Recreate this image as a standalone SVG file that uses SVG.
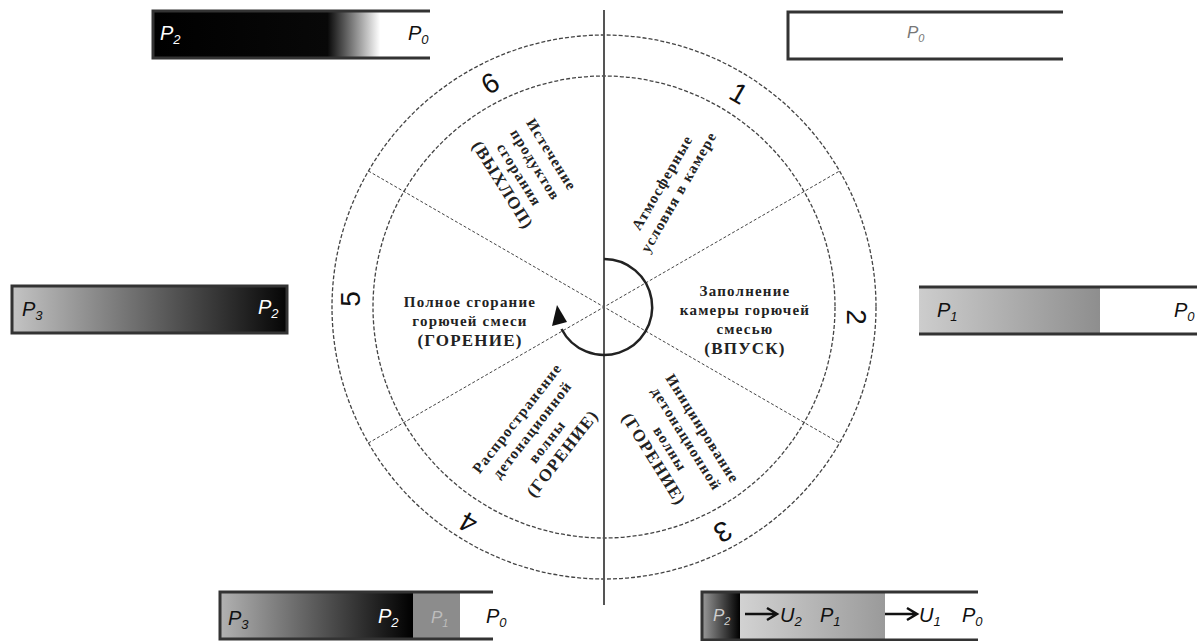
<svg xmlns="http://www.w3.org/2000/svg" width="1200" height="641" viewBox="0 0 1200 641">
<style>
.ring{fill:none;stroke:#444;stroke-width:1.3;stroke-dasharray:4 2}
.div{stroke:#444;stroke-width:1;stroke-dasharray:3 2}
.axis{stroke:#555;stroke-width:2}
.st{font-family:"Liberation Serif","DejaVu Serif",serif;font-weight:bold;font-size:15px;fill:#222;text-anchor:middle;letter-spacing:1.2px}
.cap{font-size:17px}
.num{font-family:"Liberation Sans","DejaVu Sans",sans-serif;font-size:28px;fill:#111;text-anchor:middle}
.bar{stroke:#333;stroke-width:3;fill:none}
.p{font-family:"Liberation Sans","DejaVu Sans",sans-serif;font-style:italic;font-size:20px}
.sub{font-size:13px}
</style>
<defs>
<linearGradient id="gTL" x1="0" x2="1" y1="0" y2="0"><stop offset="0" stop-color="#000"/><stop offset="0.63" stop-color="#080808"/><stop offset="0.82" stop-color="#fff"/><stop offset="1" stop-color="#fff"/></linearGradient>
<linearGradient id="gL" x1="0" x2="1" y1="0" y2="0"><stop offset="0" stop-color="#c4c4c4"/><stop offset="1" stop-color="#050505"/></linearGradient>
<linearGradient id="gR" x1="0" x2="1" y1="0" y2="0"><stop offset="0" stop-color="#cdcdcd"/><stop offset="1" stop-color="#8e8e8e"/></linearGradient>
<linearGradient id="gBL" x1="0" x2="1" y1="0" y2="0"><stop offset="0" stop-color="#b2b2b2"/><stop offset="1" stop-color="#000"/></linearGradient>
<linearGradient id="gBR1" x1="0" x2="1" y1="0" y2="0"><stop offset="0" stop-color="#9a9a9a"/><stop offset="1" stop-color="#000"/></linearGradient>
<linearGradient id="gBR2" x1="0" x2="1" y1="0" y2="0"><stop offset="0" stop-color="#d2d2d2"/><stop offset="1" stop-color="#9a9a9a"/></linearGradient>
</defs>
<rect width="1200" height="641" fill="#fff"/>

<g id="wheel">
<circle class="ring" cx="604" cy="307" r="272"/>
<circle class="ring" cx="604" cy="307" r="231"/>
<line class="div" x1="368.4" y1="171" x2="839.6" y2="443"/>
<line class="div" x1="368.4" y1="443" x2="839.6" y2="171"/>
<line class="axis" x1="604" y1="10" x2="604" y2="605"/>
</g>

<g id="connectors">
<path d="M604 259 A48 48 0 1 1 561.5 329" fill="none" stroke="#222" stroke-width="2.5"/>
<polygon points="557,305 552,326 567,322" fill="#111"/>
</g>

<g id="sector1">
<g transform="translate(670 187) rotate(-60)">
<text class="st" x="0" y="-4">Атмосферные</text>
<text class="st" x="0" y="15">условия в камере</text>
</g>
<text class="num" transform="translate(739 93) rotate(30)" x="0" y="10">1</text>
</g>

<g id="sector2">
<text class="st" x="745" y="296">Заполнение</text>
<text class="st" x="745" y="315">камеры горючей</text>
<text class="st" x="745" y="334">смесью</text>
<text class="st cap" x="745" y="354">(ВПУСК)</text>
<text class="num" transform="translate(857 317) rotate(90)" x="0" y="10">2</text>
</g>

<g id="sector3">
<g transform="translate(678 444) rotate(58)">
<text class="st" x="0" y="-24">Инициирование</text>
<text class="st" x="0" y="-5">детонационной</text>
<text class="st" x="0" y="14">волны</text>
<text class="st cap" x="0" y="34">(ГОРЕНИЕ)</text>
</g>
<text class="num" transform="translate(723 532) rotate(150)" x="0" y="10">3</text>
</g>

<g id="sector4">
<g transform="translate(540 436) rotate(-52)">
<text class="st" x="0" y="-24">Распространение</text>
<text class="st" x="0" y="-5">детонационной</text>
<text class="st" x="0" y="14">волны</text>
<text class="st cap" x="0" y="34">(ГОРЕНИЕ)</text>
</g>
<text class="num" transform="translate(468 523) rotate(-150)" x="0" y="10">4</text>
</g>

<g id="sector5">
<text class="st" x="470" y="307">Полное сгорание</text>
<text class="st" x="470" y="326">горючей смеси</text>
<text class="st cap" x="470" y="346">(ГОРЕНИЕ)</text>
<text class="num" transform="translate(350 299) rotate(-90)" x="0" y="10">5</text>
</g>

<g id="sector6">
<g transform="translate(527 170) rotate(58)">
<text class="st" x="0" y="-24">Истечение</text>
<text class="st" x="0" y="-5">продуктов</text>
<text class="st" x="0" y="14">сгорания</text>
<text class="st cap" x="0" y="34">(ВЫХЛОП)</text>
</g>
<text class="num" transform="translate(490 83) rotate(-30)" x="0" y="10">6</text>
</g>

<g id="bar-top-left">
<rect x="153" y="11" width="277" height="47" fill="url(#gTL)"/>
<path class="bar" d="M430 11 H153 V58 H430"/>
<text class="p" x="160" y="40" fill="#fff">P<tspan class="sub" dy="4">2</tspan></text>
<text class="p" x="408" y="40" fill="#111">P<tspan class="sub" dy="4">0</tspan></text>
</g>

<g id="bar-top-right">
<rect x="788" y="12" width="275" height="47" fill="#fff"/>
<path class="bar" d="M1063 12 H788 V59 H1063"/>
<text class="p" x="907" y="38" fill="#777" style="font-size:17px">P<tspan class="sub" dy="4" style="font-size:11px">0</tspan></text>
</g>

<g id="bar-left">
<rect x="12" y="286" width="275" height="47" fill="url(#gL)" stroke="#333" stroke-width="3"/>
<text class="p" x="22" y="316" fill="#111">P<tspan class="sub" dy="4">3</tspan></text>
<text class="p" x="258" y="314" fill="#fff">P<tspan class="sub" dy="4">2</tspan></text>
</g>

<g id="bar-right">
<rect x="919" y="287" width="181" height="47" fill="url(#gR)"/>
<path class="bar" d="M919 287 H1197 M919 334 H1197"/>
<text class="p" x="937" y="317" fill="#111">P<tspan class="sub" dy="4">1</tspan></text>
<text class="p" x="1174" y="317" fill="#111">P<tspan class="sub" dy="4">0</tspan></text>
</g>

<g id="bar-bottom-left">
<rect x="220" y="592" width="193" height="47" fill="url(#gBL)"/>
<rect x="413" y="592" width="47" height="47" fill="#8c8c8c"/>
<path class="bar" d="M493 592 H220 V639 H493"/>
<text class="p" x="228" y="625" fill="#111">P<tspan class="sub" dy="4">3</tspan></text>
<text class="p" x="378" y="623" fill="#fff">P<tspan class="sub" dy="4">2</tspan></text>
<text class="p" x="431" y="623" fill="#bdbdbd" style="font-size:17px">P<tspan class="sub" dy="4" style="font-size:11px">1</tspan></text>
<text class="p" x="486" y="623" fill="#111">P<tspan class="sub" dy="4">0</tspan></text>
</g>

<g id="bar-bottom-right">
<rect x="702" y="592" width="38" height="48" fill="url(#gBR1)"/>
<rect x="740" y="592" width="145" height="48" fill="url(#gBR2)"/>
<path class="bar" d="M978 592 H702 V640 H978"/>
<text class="p" x="713" y="621" fill="#cfcfcf" style="font-size:17px">P<tspan class="sub" dy="4" style="font-size:11px">2</tspan></text>
<path d="M745 614 H776 M767 608 L777 614 L767 620" fill="none" stroke="#111" stroke-width="2.5"/>
<text class="p" x="780" y="622" fill="#111">U<tspan class="sub" dy="4">2</tspan></text>
<text class="p" x="820" y="622" fill="#111">P<tspan class="sub" dy="4">1</tspan></text>
<path d="M885 614 H916 M907 608 L917 614 L907 620" fill="none" stroke="#111" stroke-width="2.5"/>
<text class="p" x="919" y="622" fill="#111">U<tspan class="sub" dy="4">1</tspan></text>
<text class="p" x="962" y="622" fill="#111">P<tspan class="sub" dy="4">0</tspan></text>
</g>
</svg>
